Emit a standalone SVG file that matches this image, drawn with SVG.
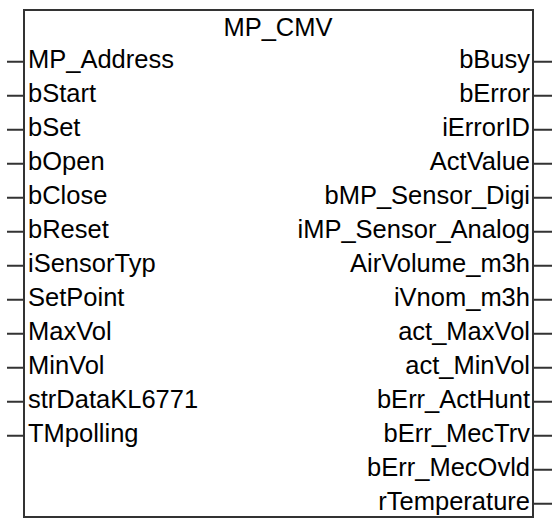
<svg xmlns="http://www.w3.org/2000/svg" width="552" height="519" viewBox="0 0 552 519">
<style>
.t{font-family:"Liberation Sans",Arial,sans-serif;font-size:25.5px;fill:#000}
.r{text-anchor:end}
.c{text-anchor:middle}
.pin{stroke:#333;stroke-width:2;fill:none}
.box{stroke:#333;stroke-width:2;fill:#fff}
</style>
<rect width="552" height="519" fill="#fff"/>
<g id="connectors">
<path class="pin" d="M7 61.7H24M7 95.7H24M7 129.7H24M7 163.7H24M7 197.7H24M7 231.7H24M7 265.7H24M7 299.7H24M7 333.7H24M7 367.7H24M7 401.7H24M7 435.7H24"/>
<path class="pin" d="M533 61.7H552M533 95.7H552M533 129.7H552M533 163.7H552M533 197.7H552M533 231.7H552M533 265.7H552M533 299.7H552M533 333.7H552M533 367.7H552M533 401.7H552M533 435.7H552M533 469.7H552M533 503.7H552"/>
</g>
<g id="MP_CMV">
<rect class="box" x="24" y="10" width="509" height="507"/>
<text class="t c" x="278" y="36">MP_CMV</text>
<text class="t" x="28" y="67.5">MP_Address</text>
<text class="t" x="28" y="101.5">bStart</text>
<text class="t" x="28" y="135.5">bSet</text>
<text class="t" x="28" y="169.5">bOpen</text>
<text class="t" x="28" y="203.5">bClose</text>
<text class="t" x="28" y="237.5">bReset</text>
<text class="t" x="28" y="271.5">iSensorTyp</text>
<text class="t" x="28" y="305.5">SetPoint</text>
<text class="t" x="28" y="339.5">MaxVol</text>
<text class="t" x="28" y="373.5">MinVol</text>
<text class="t" x="28" y="407.5">strDataKL6771</text>
<text class="t" x="28" y="441.5">TMpolling</text>
<text class="t r" x="530" y="67.5">bBusy</text>
<text class="t r" x="530" y="101.5">bError</text>
<text class="t r" x="530" y="135.5">iErrorID</text>
<text class="t r" x="530" y="169.5">ActValue</text>
<text class="t r" x="530" y="203.5">bMP_Sensor_Digi</text>
<text class="t r" x="530" y="237.5">iMP_Sensor_Analog</text>
<text class="t r" x="530" y="271.5">AirVolume_m3h</text>
<text class="t r" x="530" y="305.5">iVnom_m3h</text>
<text class="t r" x="530" y="339.5">act_MaxVol</text>
<text class="t r" x="530" y="373.5">act_MinVol</text>
<text class="t r" x="530" y="407.5">bErr_ActHunt</text>
<text class="t r" x="530" y="441.5">bErr_MecTrv</text>
<text class="t r" x="530" y="475.5">bErr_MecOvld</text>
<text class="t r" x="530" y="509.5">rTemperature</text>
</g>
</svg>
